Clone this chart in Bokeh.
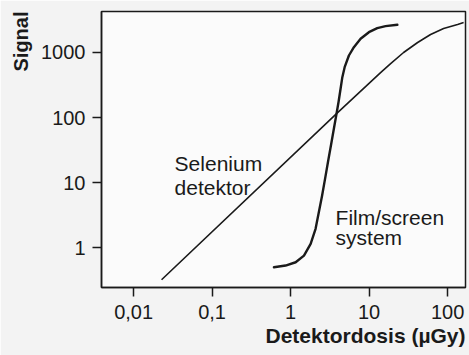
from bokeh.plotting import figure
from bokeh.models import FixedTicker, Title
from bokeh.core.properties import value
from bokeh.embed import file_html
from bokeh.resources import INLINE

# Detector dose (µGy) vs. signal, log-log
selenium_dose = [0.0227, 3.85, 14.0, 18.8, 27.5, 41.5, 60.7, 88.9, 134.0, 160.0]
selenium_signal = [0.32, 115, 490, 676, 1000, 1425, 1890, 2340, 2700, 2890]

film_dose = [0.613, 0.863, 1.16, 1.48, 1.80, 2.08, 2.52, 2.75, 3.00, 3.28,
             3.58, 3.85, 4.09, 4.33, 4.56, 4.88, 5.53, 6.40, 7.79, 9.94, 12.7,
             16.2, 22.9]
film_signal = [0.497, 0.529, 0.594, 0.753, 1.14, 1.94, 6.31, 11.5, 21.0, 38.4,
               70.2, 115, 176, 277, 417, 594, 899, 1207, 1625, 2052, 2366,
               2540, 2668]

x_ticks = [0.01, 0.1, 1, 10, 100]
x_tick_labels = ["0,01", "0,1", "1", "10", "100"]
y_ticks = [1, 10, 100, 1000]
y_tick_labels = ["1", "10", "100", "1000"]

FONT = "Liberation Sans"
INK = "#1a1a1a"

p = figure(
    width=469, height=355,
    x_axis_type="log", y_axis_type="log",
    x_range=(0.0039, 169), y_range=(0.243, 4270),
    output_backend="svg", toolbar_location=None,
    min_border_left=101, min_border_right=4,
    min_border_top=11, min_border_bottom=68,
)
p.background_fill_color = "#fbfbfb"
p.border_fill_color = "#f3f3f3"
p.outline_line_color = INK
p.outline_line_width = 1.5
p.grid.visible = False

for ax in (p.xaxis[0], p.yaxis[0]):
    ax.axis_line_color = INK
    ax.axis_line_width = 1.5
    ax.major_tick_line_color = INK
    ax.major_tick_line_width = 1.5
    ax.major_tick_out = 9
    ax.major_tick_in = 0
    ax.minor_tick_line_color = None
    ax.major_label_text_font = FONT
    ax.major_label_text_font_size = "20px"
    ax.major_label_text_color = INK

p.xaxis.major_label_standoff = 8
p.yaxis.major_label_standoff = 7

p.xaxis.ticker = FixedTicker(ticks=x_ticks)
p.xaxis.major_label_overrides = dict(zip(x_ticks, x_tick_labels))
p.yaxis.ticker = FixedTicker(ticks=y_ticks)
p.yaxis.major_label_overrides = dict(zip(y_ticks, y_tick_labels))

p.add_layout(Title(text="Signal", align="right", text_font=FONT,
                   text_font_size="20px", text_font_style="bold",
                   text_color=INK, standoff=14), "left")
p.add_layout(Title(text="Detektordosis (µGy)", align="right", text_font=FONT,
                   text_font_size="21px", text_font_style="bold",
                   text_color=INK, standoff=1), "below")

p.line(selenium_dose, selenium_signal, line_color=INK, line_width=1.6)
p.line(film_dose, film_signal, line_color=INK, line_width=2.4,
       line_join="round", line_cap="round")

label_style = dict(text_font=value(FONT), text_font_size="21px",
                   text_color=INK, text_baseline="alphabetic", text_align="left")
p.text(x=[0.0333, 0.0333], y=[19.6, 8.4], text=["Selenium", "detektor"], **label_style)
p.text(x=[3.74, 3.74], y=[2.89, 1.43], text=["Film/screen", "system"], **label_style)

open("out.html", "w").write(file_html(p, INLINE))
